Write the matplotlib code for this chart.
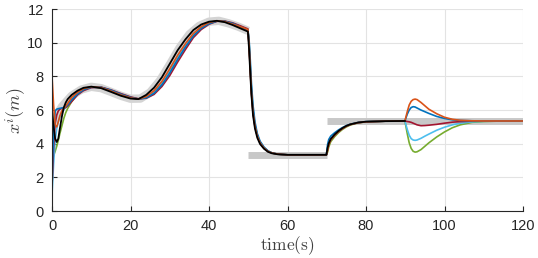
import matplotlib.pyplot as plt

# ---------------- CONFIGURATION ---------------- #

OUTPUT_FILE = "out.png"

plt.rcParams["font.family"] = ["Liberation Sans", "DejaVu Sans"]
plt.rcParams["mathtext.fontset"] = "cm"

# ---------------- DATA ---------------- #

# reference trajectory (three pieces, drawn as a wide gray band)
t_ref1 = [0, 2.5, 5, 7.5, 10, 12.5, 15, 17.5, 20, 22.5, 25, 27.5, 30, 32.5,
          35, 37.5, 40, 42.5, 45, 47.5, 50]
x_ref1 = [5.2, 6.2, 6.85, 7.22, 7.38, 7.3, 7.08, 6.85, 6.67, 6.68, 7.05, 7.75,
          8.7, 9.7, 10.5, 11.0, 11.25, 11.3, 11.15, 10.95, 10.7]
t_ref2 = [50, 70]
x_ref2 = [3.3, 3.3]
t_ref3 = [70, 120]
x_ref3 = [5.33, 5.33]

# sample times shared by the agents
t = [0, 0.4, 0.8, 1.2, 1.6, 2.0, 2.5, 3.0, 3.5, 4.0,
     5.0, 6.5, 8.0, 10, 12.5, 15, 17.5, 20, 22, 24,
     26, 28, 30, 32, 34, 36, 38, 40, 42, 44,
     46, 48, 49.9, 50.2, 50.5, 50.8, 51.2, 51.7, 52.3, 53,
     54, 55, 56, 57.5, 60, 69.9, 70.2, 70.5, 71, 72,
     73, 74, 75, 76, 78, 80, 85, 89.9,
     90.5, 91, 91.5, 92, 92.5, 93, 94, 95, 96, 98,
     100, 102, 104, 107, 110, 115, 120]

# black agent stops at t = 90
x_black = [6.0, 5.0, 4.3, 4.1, 4.3, 4.9, 5.6, 6.15, 6.45, 6.65,
           6.9, 7.15, 7.32, 7.39, 7.3, 7.08, 6.85, 6.68, 6.65, 6.9,
           7.33, 7.95, 8.75, 9.55, 10.2, 10.75, 11.08, 11.25, 11.3, 11.22,
           11.05, 10.85, 10.66, 9.6, 8.2, 6.9, 5.7, 4.9, 4.35, 3.98,
           3.7, 3.52, 3.43, 3.37, 3.34, 3.34, 3.75, 4.02, 4.28, 4.55,
           4.76, 4.93, 5.06, 5.15, 5.26, 5.31, 5.34, 5.35]

x_orange = [8.0, 6.3, 5.1, 5.0, 5.3, 5.65, 5.95, 6.1, 6.25, 6.4,
            6.75, 7.05, 7.27, 7.38, 7.33, 7.13, 6.9, 6.72, 6.65, 6.8,
            7.15, 7.7, 8.45, 9.25, 9.95, 10.55, 10.95, 11.2, 11.3, 11.25,
            11.1, 10.95, 10.78, 9.9, 8.5, 7.1, 5.9, 5.05, 4.45, 4.05,
            3.74, 3.55, 3.45, 3.38, 3.34, 3.34, 3.6, 3.95, 4.25, 4.52,
            4.74, 4.91, 5.05, 5.14, 5.25, 5.3, 5.34, 5.35,
            5.9, 6.3, 6.52, 6.62, 6.65, 6.62, 6.45, 6.25, 6.05, 5.78,
            5.57, 5.45, 5.39, 5.36, 5.35, 5.35, 5.35]

x_blue = [2.0, 4.6, 5.95, 6.05, 6.08, 6.1, 6.12, 6.15, 6.2, 6.3,
          6.6, 6.95, 7.2, 7.35, 7.35, 7.18, 6.95, 6.75, 6.65, 6.72,
          7.0, 7.5, 8.2, 9.0, 9.75, 10.4, 10.85, 11.13, 11.28, 11.27,
          11.15, 10.95, 10.75, 10.2, 9.0, 7.6, 6.3, 5.3, 4.6, 4.15,
          3.8, 3.58, 3.46, 3.38, 3.34, 3.34, 3.95, 4.25, 4.45, 4.65,
          4.82, 4.96, 5.08, 5.16, 5.26, 5.31, 5.34, 5.35,
          5.75, 6.0, 6.15, 6.2, 6.18, 6.12, 6.0, 5.9, 5.8, 5.62,
          5.5, 5.42, 5.38, 5.36, 5.35, 5.35, 5.35]

x_red = [1.5, 3.8, 5.2, 5.7, 5.95, 6.05, 6.1, 6.12, 6.15, 6.25,
         6.5, 6.9, 7.15, 7.33, 7.36, 7.2, 6.98, 6.78, 6.67, 6.7,
         6.93, 7.4, 8.05, 8.85, 9.6, 10.3, 10.78, 11.1, 11.27, 11.28,
         11.18, 11.0, 10.82, 9.8, 8.4, 7.0, 5.85, 5.0, 4.45, 4.05,
         3.74, 3.55, 3.45, 3.38, 3.34, 3.34, 3.65, 3.95, 4.22, 4.5,
         4.72, 4.9, 5.04, 5.14, 5.25, 5.3, 5.34, 5.35,
         5.32, 5.3, 5.27, 5.22, 5.17, 5.12, 5.07, 5.08, 5.1, 5.15,
         5.22, 5.28, 5.31, 5.34, 5.35, 5.35, 5.35]

x_lightblue = [1.0, 2.8, 4.2, 4.9, 5.3, 5.6, 5.85, 6.02, 6.15, 6.3,
               6.6, 7.0, 7.25, 7.37, 7.34, 7.15, 6.92, 6.74, 6.66, 6.76,
               7.08, 7.6, 8.33, 9.12, 9.85, 10.48, 10.9, 11.17, 11.29, 11.26,
               11.12, 10.95, 10.76, 10.0, 8.6, 7.2, 6.0, 5.1, 4.5, 4.08,
               3.76, 3.56, 3.45, 3.38, 3.34, 3.34, 3.7, 4.0, 4.27, 4.53,
               4.74, 4.91, 5.05, 5.14, 5.25, 5.3, 5.34, 5.35,
               4.85, 4.5, 4.3, 4.22, 4.2, 4.22, 4.32, 4.45, 4.57, 4.8,
               4.98, 5.12, 5.22, 5.3, 5.33, 5.35, 5.35]

x_green = [3.0, 3.3, 3.55, 3.85, 4.2, 4.6, 5.05, 5.5, 5.85, 6.1,
           6.5, 6.95, 7.22, 7.36, 7.35, 7.16, 6.94, 6.75, 6.66, 6.74,
           7.04, 7.55, 8.27, 9.06, 9.8, 10.44, 10.88, 11.15, 11.28, 11.27,
           11.14, 10.96, 10.77, 10.0, 8.6, 7.2, 6.0, 5.1, 4.5, 4.08,
           3.76, 3.56, 3.45, 3.38, 3.34, 3.34, 3.5, 3.8, 4.12, 4.42,
           4.66, 4.85, 5.0, 5.11, 5.24, 5.3, 5.34, 5.35,
           4.6, 4.05, 3.72, 3.55, 3.5, 3.52, 3.65, 3.85, 4.05, 4.4,
           4.7, 4.95, 5.12, 5.27, 5.32, 5.35, 5.35]

x_ticks = [0, 20, 40, 60, 80, 100, 120]
y_ticks = [0, 2, 4, 6, 8, 10, 12]

# ---------------- VISUALIZATION ---------------- #

def create_chart():
    fig = plt.figure(figsize=(5.38, 2.58), dpi=100)
    ax = fig.add_axes([0.0967, 0.182, 0.8755, 0.783])

    # reference band
    ax.plot(t_ref1, x_ref1, color="#d4d4d4", linewidth=6, solid_capstyle="butt")
    ax.plot(t_ref2, x_ref2, color="#c8c8c8", linewidth=5, solid_capstyle="butt")
    ax.plot(t_ref3, x_ref3, color="#c8c8c8", linewidth=5, solid_capstyle="butt")

    # agents
    ax.plot(t, x_green, color="#77AC30", linewidth=1.2)
    ax.plot(t, x_lightblue, color="#4DBEEE", linewidth=1.2)
    ax.plot(t, x_red, color="#A2142F", linewidth=1.2)
    ax.plot(t, x_blue, color="#0072BD", linewidth=1.2)
    ax.plot(t, x_orange, color="#D95319", linewidth=1.2)
    ax.plot(t[:len(x_black)], x_black, color="black", linewidth=1.3)

    ax.set_xlim(0, 120)
    ax.set_ylim(0, 12)
    ax.set_xticks(x_ticks)
    ax.set_yticks(y_ticks)

    ax.grid(True, color="#e3e3e3", linewidth=0.8)
    ax.set_axisbelow(True)

    for side in ["top", "right"]:
        ax.spines[side].set_visible(False)
    for side in ["left", "bottom"]:
        ax.spines[side].set_color("#262626")
        ax.spines[side].set_linewidth(0.8)

    ax.tick_params(direction="in", length=3.5, width=0.8, colors="#262626",
                   labelsize=10.5, pad=6)

    ax.set_xlabel(r"$\mathrm{time(s)}$", fontsize=12.5, color="#404040", labelpad=1)
    ax.set_ylabel(r"$x^i(m)$", fontsize=13, color="#404040", labelpad=-1)

    fig.savefig(OUTPUT_FILE, dpi=100)


# ---------------- MAIN ---------------- #

def main():
    create_chart()


if __name__ == "__main__":
    main()
